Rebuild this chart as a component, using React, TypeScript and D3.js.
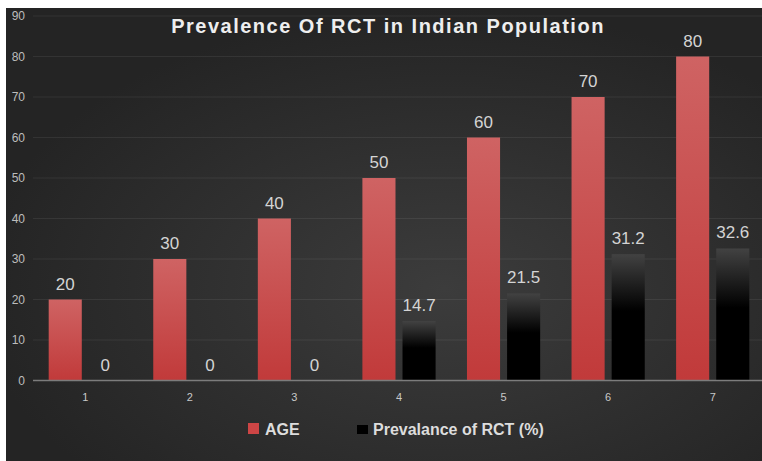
import React from 'react';
import * as d3 from 'd3';

const categories = ['1', '2', '3', '4', '5', '6', '7'];
const ageValues = [20, 30, 40, 50, 60, 70, 80];
const rctValues = [0, 0, 0, 14.7, 21.5, 31.2, 32.6];
const seriesNames = ['AGE', 'Prevalance of RCT (%)'];
const yTicks = [0, 10, 20, 30, 40, 50, 60, 70, 80, 90];
const title = 'Prevalence Of RCT in Indian Population';

const W = 762;
const H = 461;

const App: React.FC = () => {
  const bgX = 6;
  const bgY = 8;
  const plotLeft = 33;
  const plotRight = 765;

  const y = d3.scaleLinear().domain([0, 90]).range([380.5, 16]);
  const x0 = d3.scaleBand<string>()
    .domain(categories)
    .range([plotLeft, plotRight])
    .paddingInner(0.3)
    .paddingOuter(0.15);
  const x1 = d3.scaleBand<string>()
    .domain(seriesNames)
    .range([0, x0.bandwidth()])
    .paddingInner(0.175);

  const font = "'Liberation Sans', Arial, sans-serif";

  return (
    <svg width={W} height={H} style={{ position: 'absolute', left: 0, top: 0 }}>
      <defs>
        <radialGradient id="bg" cx="0.58" cy="0.62" r="0.62">
          <stop offset="0" stopColor="#3c3c3c" />
          <stop offset="1" stopColor="#242424" />
        </radialGradient>
        <linearGradient id="redBar" x1="0" y1="0" x2="0" y2="1">
          <stop offset="0" stopColor="#cf6363" />
          <stop offset="1" stopColor="#c13a3a" />
        </linearGradient>
        <linearGradient id="blackBar" x1="0" y1="0" x2="0" y2="1">
          <stop offset="0" stopColor="#424242" />
          <stop offset="0.45" stopColor="#000000" />
          <stop offset="1" stopColor="#000000" />
        </linearGradient>
      </defs>
      <rect x={0} y={0} width={W} height={H} fill="#ffffff" />
      <rect x={bgX} y={bgY} width={W - bgX} height={H - bgY} fill="url(#bg)" />

      {/* grid + y axis labels */}
      {yTicks.map((t) => (
        <g key={t}>
          {t > 0 && (
            <line x1={plotLeft} x2={W} y1={y(t)} y2={y(t)} stroke="#ffffff" strokeOpacity={0.07} />
          )}
          <text x={25} y={y(t) + 4} textAnchor="end" fontFamily={font} fontSize={12} fill="#bdbdbd">
            {t}
          </text>
        </g>
      ))}

      {/* bars */}
      {categories.map((c, i) => {
        const bx0 = (x0(c) ?? 0) + (x1(seriesNames[0]) ?? 0);
        const bx1 = (x0(c) ?? 0) + (x1(seriesNames[1]) ?? 0);
        const bw = x1.bandwidth();
        return (
          <g key={c}>
            <rect x={bx0} y={y(ageValues[i])} width={bw} height={y(0) - y(ageValues[i])} fill="url(#redBar)" />
            {rctValues[i] > 0 && (
              <rect x={bx1} y={y(rctValues[i])} width={bw} height={y(0) - y(rctValues[i])} fill="url(#blackBar)" />
            )}
            <text x={bx0 + bw / 2} y={y(ageValues[i]) - 10} textAnchor="middle" fontFamily={font} fontSize={17} fill="#d4d4d4">
              {ageValues[i]}
            </text>
            <text x={bx1 + bw / 2} y={y(rctValues[i]) - 10} textAnchor="middle" fontFamily={font} fontSize={17} fill="#d4d4d4">
              {rctValues[i]}
            </text>
            <text x={(x0(c) ?? 0) + x0.bandwidth() / 2} y={401} textAnchor="middle" fontFamily={font} fontSize={11} fill="#c8c8c8">
              {c}
            </text>
          </g>
        );
      })}

      {/* zero axis */}
      <line x1={plotLeft} x2={W} y1={y(0)} y2={y(0)} stroke="#7c7c7c" strokeWidth={1.5} />

      {/* title */}
      <text x={388} y={33} textAnchor="middle" fontFamily={font} fontWeight="bold" fontSize={20} letterSpacing={1.5} fill="#eeeeee">
        {title}
      </text>

      {/* legend */}
      <rect x={248} y={423} width={11} height={11} fill="#cd4545" />
      <text x={265} y={435} fontFamily={font} fontWeight="bold" fontSize={16} fill="#dddddd">
        {seriesNames[0]}
      </text>
      <rect x={357} y={425} width={11} height={9} fill="#000000" />
      <text x={373} y={435} fontFamily={font} fontWeight="bold" fontSize={16} fill="#dddddd">
        {seriesNames[1]}
      </text>
    </svg>
  );
};

export default App;
